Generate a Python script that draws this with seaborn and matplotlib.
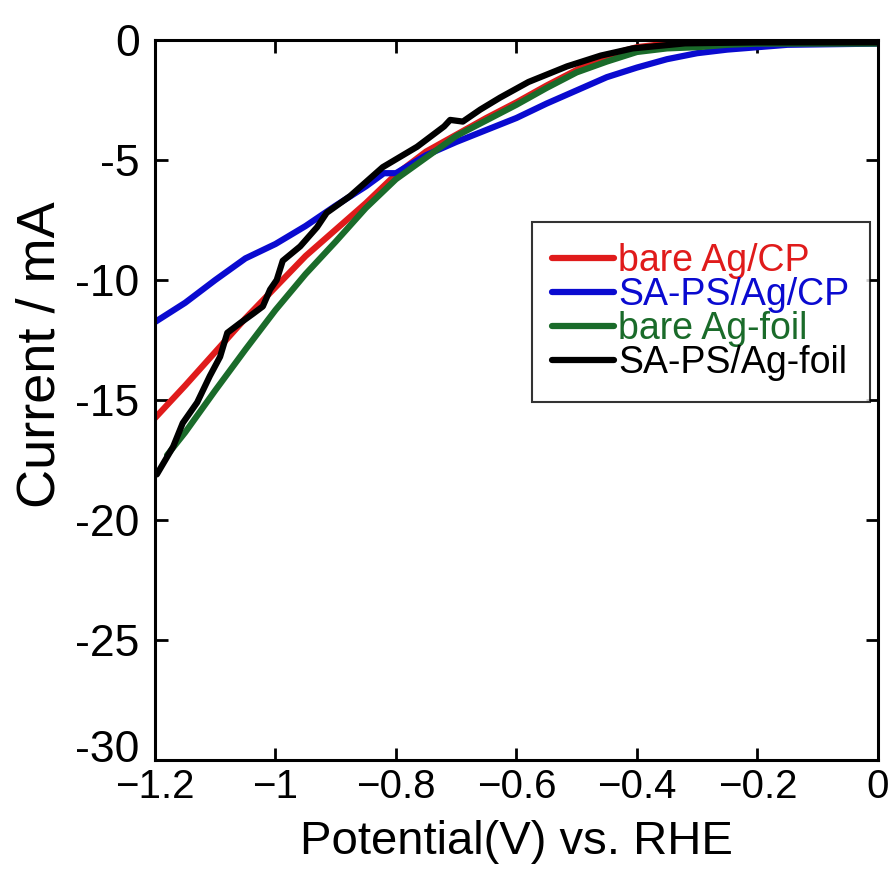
import numpy as np
import pandas as pd
import matplotlib
matplotlib.use("Agg")
import matplotlib.pyplot as plt
import matplotlib.transforms as mtransforms
import seaborn as sns

# LSV data (potential V vs. RHE, current mA)
red_v = [-1.2, -1.15, -1.1, -1.05, -1.0, -0.95, -0.9, -0.85, -0.8, -0.75, -0.7,
         -0.65, -0.6, -0.55, -0.5, -0.45, -0.4, -0.35, -0.3, 0.0]
red_i = [-15.75, -14.4, -13.0, -11.6, -10.3, -9.0, -7.9, -6.8, -5.6, -4.65, -3.95,
         -3.25, -2.6, -1.9, -1.25, -0.65, -0.3, -0.15, -0.1, -0.1]

blue_v = [-1.2, -1.15, -1.1, -1.05, -1.0, -0.95, -0.9, -0.85, -0.82, -0.8, -0.75,
          -0.7, -0.65, -0.6, -0.55, -0.5, -0.45, -0.4, -0.35, -0.3, -0.25, -0.2,
          -0.15, 0.0]
blue_i = [-11.75, -10.95, -10.0, -9.1, -8.5, -7.75, -6.9, -6.1, -5.55, -5.55, -4.8,
          -4.25, -3.75, -3.25, -2.65, -2.1, -1.55, -1.15, -0.8, -0.55, -0.4, -0.3,
          -0.2, -0.15]

green_v = [-1.18, -1.15, -1.1, -1.05, -1.0, -0.95, -0.9, -0.85, -0.8, -0.75, -0.7,
           -0.65, -0.6, -0.55, -0.5, -0.45, -0.4, -0.35, -0.3, -0.25, -0.2, 0.0]
green_i = [-17.3, -16.35, -14.6, -12.9, -11.25, -9.75, -8.4, -7.0, -5.8, -4.9, -4.0,
           -3.35, -2.7, -2.0, -1.35, -0.9, -0.5, -0.35, -0.3, -0.2, -0.15, -0.15]

black_v = [-1.197, -1.17, -1.154, -1.13, -1.109, -1.092, -1.08, -1.059, -1.037,
           -1.021, -1.009, -0.998, -0.988, -0.959, -0.931, -0.915, -0.876, -0.822,
           -0.765, -0.72, -0.71, -0.689, -0.66, -0.627, -0.58, -0.516, -0.46,
           -0.407, -0.32, -0.2, 0.0]
black_i = [-18.1, -16.95, -15.96, -15.1, -14.0, -13.2, -12.2, -11.8, -11.4,
           -11.1, -10.4, -10.0, -9.2, -8.6, -7.8, -7.2, -6.5, -5.3,
           -4.45, -3.6, -3.33, -3.4, -2.9, -2.4, -1.75, -1.1, -0.65,
           -0.35, -0.14, -0.1, -0.1]

labels = ["bare Ag/CP", "SA-PS/Ag/CP", "bare Ag-foil", "SA-PS/Ag-foil"]
colors = ["#e01b1b", "#0a0ad0", "#1a6b2a", "#000000"]

x_ticks = [-1.2, -1.0, -0.8, -0.6, -0.4, -0.2, 0.0]
x_ticklabels = ["\u22121.2", "\u22121", "\u22120.8", "\u22120.6", "\u22120.4", "\u22120.2", "0"]
y_ticks = [-30, -25, -20, -15, -10, -5, 0]
y_ticklabels = ["-30", "-25", "-20", "-15", "-10", "-5", "0"]

sns.set_style("ticks")
plt.rcParams['font.family'] = ['Liberation Sans', 'DejaVu Sans']
plt.rcParams.update({'text.color': 'black', 'axes.labelcolor': 'black',
                     'xtick.color': 'black', 'ytick.color': 'black'})

fig = plt.figure(figsize=(8.93, 8.73), dpi=100)
ax = fig.add_axes([0.1736, 0.1294, 0.8094, 0.8248])

series = [(red_v, red_i), (blue_v, blue_i), (green_v, green_i), (black_v, black_i)]
for (v, i), lab, col in zip(series, labels, colors):
    df = pd.DataFrame({'V': v, 'I': i})
    sns.lineplot(data=df, x='V', y='I', ax=ax, color=col, lw=4.5, label=lab,
                 sort=False, estimator=None)

ax.set_xlim(-1.2, 0)
ax.set_ylim(-30, 0)
ax.set_xticks(x_ticks)
ax.set_xticklabels(x_ticklabels, fontsize=29)
ax.set_yticks(y_ticks)
ax.set_yticklabels(y_ticklabels, fontsize=32)
ax.tick_params(direction='in', length=9, width=2, top=True, right=True)
ax.tick_params(axis='x', pad=6)
ax.tick_params(axis='y', pad=11)
for s in ax.spines.values():
    s.set_linewidth(2.2)
    s.set_color('black')

# bottom y label sits a little higher, clear of the x tick labels
lowest = ax.get_yticklabels()[0]
lowest.set_transform(lowest.get_transform() +
                     mtransforms.ScaledTranslation(0, 10 / 72, fig.dpi_scale_trans))

ax.set_xlabel('Potential(V) vs. RHE', fontsize=34, labelpad=10)
ax.set_ylabel('Current / mA', fontsize=39)
ax.yaxis.set_label_coords(-0.124, 0.5625)

leg = ax.legend(loc='upper left', bbox_to_anchor=(0.521, 0.747), borderaxespad=0,
                fontsize=27, frameon=True, fancybox=False, edgecolor='black',
                handlelength=1.65, handletextpad=0.1, labelspacing=-0.05,
                borderpad=0.55, labelcolor='linecolor')
leg.get_frame().set_linewidth(1.5)

fig.savefig('out.png', dpi=100)
